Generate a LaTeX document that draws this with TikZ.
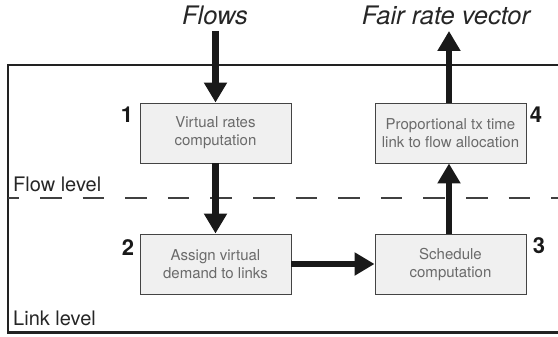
\documentclass[tikz,border=0pt]{standalone}
\usepackage{fontspec}
\setmainfont{TeX Gyre Heros}
\usetikzlibrary{arrows.meta}
\definecolor{boxfill}{HTML}{F0F0F0}
\definecolor{boxline}{HTML}{444444}
\definecolor{boxtext}{HTML}{6A6A6A}
\definecolor{frameline}{HTML}{222222}
\begin{document}
\begin{tikzpicture}[x=1pt,y=-1pt,
  stepbox/.style={draw=boxline, line width=0.9pt, fill=boxfill, minimum width=151pt, minimum height=60pt,
    align=center, text=boxtext, font=\fontsize{15}{18.3}\selectfont, inner sep=0pt},
  bigarrow/.style={line width=6.5pt, draw=black!90, -{Triangle[width=22pt,length=20pt]}},
  numlabel/.style={font=\fontsize{22}{24}\selectfont\bfseries, text=black!90, inner sep=0pt},
  levellabel/.style={font=\fontsize{20}{22}\selectfont, text=black!85, inner sep=0pt, anchor=base west},
  titlelabel/.style={font=\fontsize{25.5}{28}\selectfont\itshape, text=black!85, inner sep=0pt}
]
\path[use as bounding box] (0,0) rectangle (558,337);
% frame
\draw[frameline, line width=2.2pt] (562,65) -- (8,65) -- (8,332.5) -- (562,332.5);
% dashed separator
\draw[black!75, line width=1.3pt, dash pattern=on 21.6pt off 21pt, dash phase=10.6pt] (8,198) -- (560,198);
\node[levellabel] (flowlevel) at (13,192) {Flow level};
\node[levellabel] (linklevel) at (13,325) {Link level};
% boxes
\node[stepbox] (b1) at (215.5,133) {Virtual rates\\computation};
\node[stepbox] (b2) at (215.5,264) {Assign virtual\\demand to links};
\node[stepbox] (b3) at (450.5,264.5) {Schedule\\computation};
\node[stepbox] (b4) at (450.5,133) {Proportional tx time\\link to flow allocation};
% numbers
\node[numlabel, anchor=base] (n1) at (127,123) {1};
\node[numlabel, anchor=base] (n2) at (128,255) {2};
\node[numlabel, anchor=base] (n3) at (539,253) {3};
\node[numlabel, anchor=base] (n4) at (536,123) {4};
% titles
\node[titlelabel] (flows) at (215,15) {Flows};
\node[titlelabel] (fair) at (446,15) {Fair rate vector};
\coordinate (fin) at (215.5,31);
\coordinate (fout) at (449,31);
% arrows
\draw[bigarrow] (fin) -- (b1.north);
\draw[bigarrow] (b1.south) -- (b2.north);
\draw[bigarrow] (b2.east) -- (b3.west |- b2.east);
\draw[bigarrow] (b3.north -| fout) -- (b4.south -| fout);
\draw[bigarrow] (b4.north -| fout) -- (fout);
\end{tikzpicture}
\end{document}
